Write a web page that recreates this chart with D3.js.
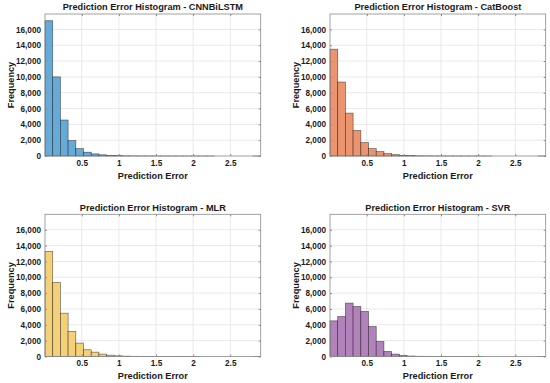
<!DOCTYPE html>
<html><head><meta charset="utf-8">
<script src="https://cdn.jsdelivr.net/npm/d3@7"></script>
<style>body{margin:0;background:#fff}svg{display:block}text{font-family:"Liberation Sans",Arial,sans-serif;font-weight:bold;fill:#1a1a1a}</style>
</head><body><svg id="c" width="550" height="383"></svg>
<script>
const models = ["CNNBiLSTM", "CatBoost", "MLR", "SVR"];
const colors = ["#66aad7", "#eb9570", "#f4d079", "#b282bb"];
const cnnCounts = [17100, 10000, 4550, 1950, 930, 480, 270, 150, 85, 45, 25, 15, 10, 6, 4, 3, 2, 2, 1, 1, 1, 1, 0, 0, 0, 0, 0, 1];
const catCounts = [13500, 9350, 5420, 3220, 1700, 930, 550, 300, 170, 90, 50, 30, 18, 10, 6, 4, 3, 2, 1, 1, 1, 0, 0, 0, 0, 0, 0, 1];
const mlrCounts = [13250, 9350, 5470, 3160, 1690, 850, 550, 300, 170, 85, 45, 25, 15, 10, 6, 4, 2, 2, 1, 1, 0, 0, 0, 0, 0, 0, 0, 1];
const svrCounts = [4500, 5050, 6740, 6320, 5690, 3790, 1900, 640, 300, 125, 60, 30, 15, 8, 5, 3, 2, 1, 1, 1, 0, 0, 0, 0, 0, 0, 0, 1];
const seriesCounts = [cnnCounts, catCounts, mlrCounts, svrCounts];
const xDomain = [0.005, 2.91];
const yMax = 17950;
const yTicks = [0, 2000, 4000, 6000, 8000, 10000, 12000, 14000, 16000];
const xTicks = [0.5, 1, 1.5, 2, 2.5];

const panels = [
  {x0: 45, x1: 260.7, y0: 14, y1: 156},
  {x0: 330, x1: 545.7, y0: 14, y1: 156},
  {x0: 45, x1: 260.7, y0: 214.3, y1: 356.5},
  {x0: 330, x1: 545.7, y0: 214.3, y1: 356.5}
];
const svg = d3.select("#c");
const fmt = d3.format(",");

panels.forEach((p, i) => {
  const counts = seriesCounts[i];
  const nb = counts.length;
  const bw = (xDomain[1] - xDomain[0]) / nb;
  const bins = counts.map((c, k) => ({x0: xDomain[0] + k * bw, x1: xDomain[0] + (k + 1) * bw, n: c}));
  const x = d3.scaleLinear().domain(xDomain).range([p.x0, p.x1]);
  const y = d3.scaleLinear().domain([0, yMax]).range([p.y1, p.y0]);
  const g = svg.append("g");
  // grid
  g.selectAll(".gy").data(yTicks.slice(1)).join("line")
    .attr("x1", p.x0).attr("x2", p.x1).attr("y1", d => y(d)).attr("y2", d => y(d))
    .attr("stroke", "#e3e3e3").attr("stroke-width", 0.8);
  g.selectAll(".gx").data(xTicks).join("line")
    .attr("y1", p.y0).attr("y2", p.y1).attr("x1", d => x(d)).attr("x2", d => x(d))
    .attr("stroke", "#e3e3e3").attr("stroke-width", 0.8);
  // bars
  g.selectAll(".bar").data(bins.filter(b => b.n > 0)).join("rect")
    .attr("x", d => x(d.x0)).attr("width", d => x(d.x1) - x(d.x0))
    .attr("y", d => y(d.n)).attr("height", d => y(0) - y(d.n))
    .attr("fill", colors[i]).attr("stroke", "#000").attr("stroke-opacity", 0.55).attr("stroke-width", 0.7);
  // box
  g.append("rect").attr("x", p.x0).attr("y", p.y0).attr("width", p.x1 - p.x0).attr("height", p.y1 - p.y0)
    .attr("fill", "none").attr("stroke", "#8a8a8a").attr("stroke-width", 0.8);
  // axes
  const ya = d3.axisLeft(y).tickValues(yTicks).tickFormat(fmt).tickSize(-2).tickPadding(4);
  const yAx = g.append("g").attr("transform", `translate(${p.x0},0)`).call(ya);
  const yr = d3.axisRight(y).tickValues(yTicks).tickFormat("").tickSize(-2);
  const yAr = g.append("g").attr("transform", `translate(${p.x1},0)`).call(yr);
  const xa = d3.axisBottom(x).tickValues(xTicks).tickFormat(d3.format("")).tickSize(-2).tickPadding(4);
  const xAx = g.append("g").attr("transform", `translate(0,${p.y1})`).call(xa);
  const xt = d3.axisTop(x).tickValues(xTicks).tickFormat("").tickSize(-2);
  const xAt = g.append("g").attr("transform", `translate(0,${p.y0})`).call(xt);
  [yAx, yAr, xAx, xAt].forEach(a => {
    a.select(".domain").remove();
    a.selectAll("line").attr("stroke", "#8a8a8a");
    a.selectAll("text").attr("font-size", 8.2).attr("font-family", "Liberation Sans, Arial, sans-serif").attr("font-weight", "bold").attr("fill", "#1a1a1a");
  });
  // titles
  g.append("text").attr("x", (p.x0 + p.x1) / 2).attr("y", p.y0 - 3.8).attr("text-anchor", "middle")
    .attr("font-size", 9.2).text("Prediction Error Histogram - " + models[i]);
  g.append("text").attr("x", (p.x0 + p.x1) / 2).attr("y", p.y1 + 22.5).attr("text-anchor", "middle")
    .attr("font-size", 9.2).text("Prediction Error");
  g.append("text").attr("transform", `translate(${p.x0 - 31.5},${(p.y0 + p.y1) / 2}) rotate(-90)`)
    .attr("text-anchor", "middle").attr("font-size", 9.2).text("Frequency");
});
</script></body></html>
